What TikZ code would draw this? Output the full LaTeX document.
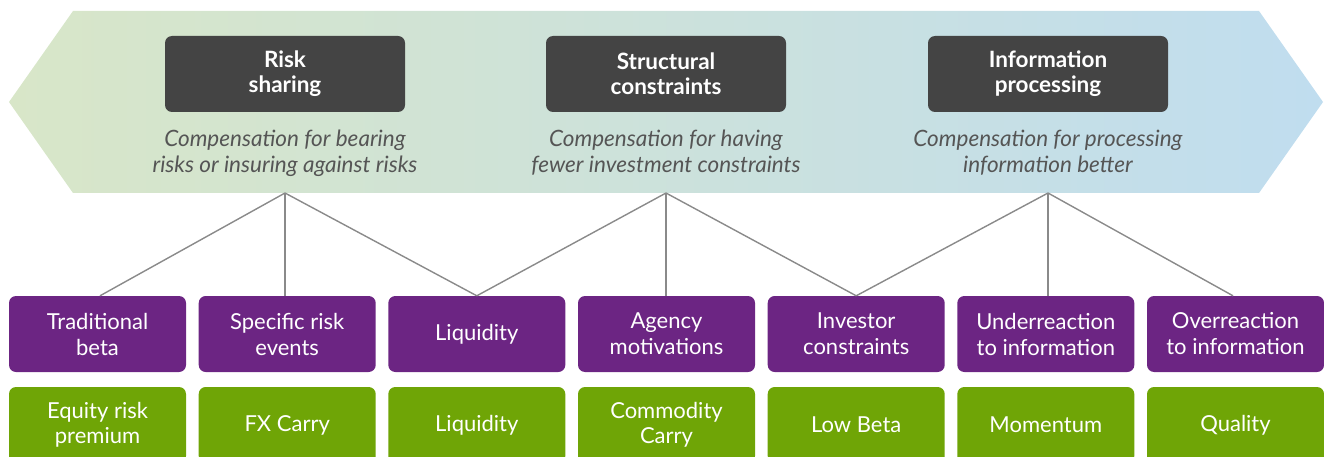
\documentclass[tikz,border=0pt]{standalone}
\usepackage{fontspec}
\setmainfont{Lato}
\definecolor{bandL}{HTML}{D8E6C8}
\definecolor{bandM}{HTML}{CFE3D8}
\definecolor{bandR}{HTML}{C0DDEF}
\definecolor{pillarfill}{HTML}{444444}
\definecolor{notegray}{HTML}{555555}
\definecolor{factorfill}{HTML}{6C2583}
\definecolor{premfill}{HTML}{6FA506}
\definecolor{linkgray}{HTML}{8A8A8A}
\begin{document}
\begin{tikzpicture}[x=1pt,y=-1pt,
  pillar/.style={fill=pillarfill, rounded corners=7pt, minimum width=240pt, minimum height=76pt,
    inner sep=0pt, text=white, align=center, font=\bfseries\fontsize{22.5}{25}\selectfont},
  note/.style={text=notegray, align=center, inner sep=0pt, font=\itshape\fontsize{22.5}{26}\selectfont},
  factor/.style={fill=factorfill, rounded corners=7pt, minimum width=177pt, minimum height=76pt,
    inner sep=0pt, text=white, align=center, font=\fontsize{22}{26}\selectfont},
  premium/.style={fill=premfill, rounded corners=7pt, minimum width=177pt, minimum height=76pt,
    inner sep=0pt, text=white, align=center, font=\fontsize{22}{25}\selectfont},
  link/.style={draw=linkgray, line width=1.4pt}]
\useasboundingbox (0,0) rectangle (1324,457);
\clip (0,0) rectangle (1324,457);

% background band
\shade[left color=bandL, middle color=bandM, right color=bandR]
  (73,11) -- (1259,11) -- (1323,102) -- (1259,193) -- (73,193) -- (9,102) -- cycle;

% three sources of return
\node[pillar] (rs) at (285,74) {Risk\\sharing};
\node[pillar] (sc) at (666,74) {Structural\\constraints};
\node[pillar] (ip) at (1048,74) {Information\\processing};

\node[note] (rsn) at (285,153) {Compensation for bearing\\risks or insuring against risks};
\node[note] (scn) at (666,153) {Compensation for having\\fewer investment constraints};
\node[note] (ipn) at (1048,153) {Compensation for processing\\information better};

\coordinate (rsA) at (285,193);
\coordinate (scA) at (666,193);
\coordinate (ipA) at (1048,193);

% economic rationales
\node[factor] (f1) at (97.5,334) {Traditional\\beta};
\node[factor] (f2) at (287.2,334) {Specific risk\\events};
\node[factor] (f3) at (476.8,334) {Liquidity};
\node[factor] (f4) at (666.5,334) {Agency\\motivations};
\node[factor] (f5) at (856.2,334) {Investor\\constraints};
\node[factor] (f6) at (1045.8,334) {Underreaction\\to information};
\node[factor] (f7) at (1235.5,334) {Overreaction\\to information};

% premia
\node[premium] (p1) at (97.5,425) {Equity risk\\premium};
\node[premium] (p2) at (287.2,425) {FX Carry};
\node[premium] (p3) at (476.8,425) {Liquidity};
\node[premium] (p4) at (666.5,425) {Commodity\\Carry};
\node[premium] (p5) at (856.2,425) {Low Beta};
\node[premium] (p6) at (1045.8,425) {Momentum};
\node[premium] (p7) at (1235.5,425) {Quality};

% links
\draw[link] (rsA) -- ([xshift=2.5pt]f1.north);
\draw[link] (rsA) -- (rsA |- f2.north);
\draw[link] (rsA) -- (f3.north);
\draw[link] (scA) -- (f3.north);
\draw[link] (scA) -- (scA |- f4.north);
\draw[link] (scA) -- (f5.north);
\draw[link] (ipA) -- (f5.north);
\draw[link] (ipA) -- (ipA |- f6.north);
\draw[link] (ipA) -- ([xshift=-2.5pt]f7.north);
\end{tikzpicture}
\end{document}
